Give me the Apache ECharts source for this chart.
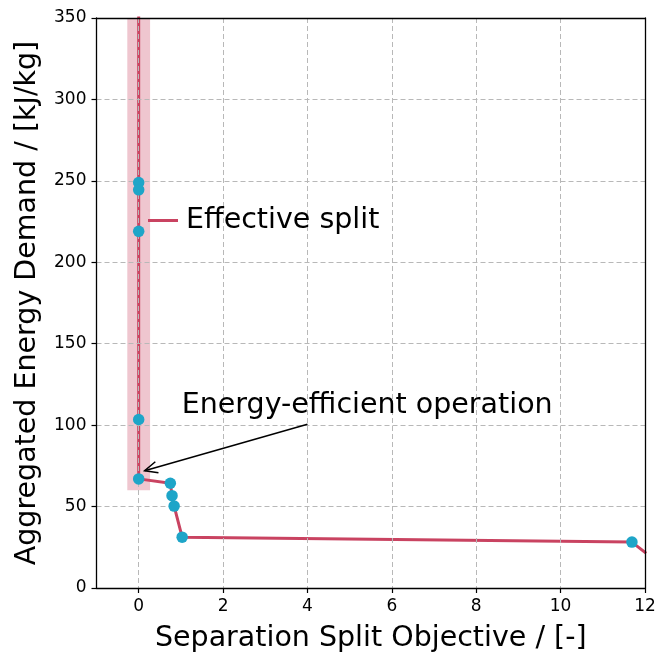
<!DOCTYPE html>
<html>
<head>
<meta charset="utf-8">
<script src="https://cdn.jsdelivr.net/npm/echarts@6/dist/echarts.min.js"></script>
<style>html,body{margin:0;padding:0;background:#fff}#c{width:656px;height:653px}</style>
</head>
<body>
<div id="c"></div>
<script>
// Data
const splitX = [0, 0, 0, 0, 0, 0, 0.75, 0.79, 0.84, 1.03, 11.69, 12.03];
const energyY = [420, 249, 244.5, 219, 103.5, 67, 64.3, 56.7, 50.3, 31.2, 28.2, 21.3];
const markerX = [0, 0, 0, 0, 0, 0.75, 0.79, 0.84, 1.03, 11.69, 12.03];
const markerY = [249, 244.5, 219, 103.5, 67, 64.3, 56.7, 50.3, 31.2, 28.2, 21.3];
const bandX = [-0.27, 0.27];
const bandY = [60, 350];
const arrowFrom = [4.0, 100.5];
const arrowTo = [0.14, 72];
const noteAt = [1.02, 112];
const noteText = 'Energy-efficient operation';
const seriesName = 'Effective split';
const xRange = [-1, 12];
const xTickValues = [0, 2, 4, 6, 8, 10, 12];
const yTicks = [0, 350, 50];

const FONT = 'DejaVu Sans';
const RED = '#c94361';
const BLUE = '#1ea5c8';

const chart = echarts.init(document.getElementById('c'), null, {renderer: 'canvas'});
const grid = '#b8b8b8';
chart.setOption({
  animation: false,
  grid: {left: 96.5, right: 11, top: 18, bottom: 65, show: false, containLabel: false, outerBoundsMode: 'none'},
  legend: {
    left: 143, top: 201, itemWidth: 30, itemHeight: 3, itemGap: 8,
    data: [{name: seriesName, icon: 'rect'}],
    textStyle: {fontFamily: FONT, fontSize: 28.5, color: '#000', padding: [0, 0, 0, 3]}
  },
  xAxis: [{
    type: 'value', min: xRange[0], max: xRange[1], position: 'bottom', z: 2,
    name: 'Separation Split Objective / [-]', nameLocation: 'middle', nameGap: 36,
    nameTextStyle: {color: '#000', fontFamily: FONT, fontSize: 28.5},
    axisLine: {show: true, onZero: false, lineStyle: {color: '#000', width: 1.3}},
    axisTick: {show: true, length: 5, customValues: xTickValues, lineStyle: {color: '#000', width: 1.2}},
    axisLabel: {color: '#000', fontFamily: FONT, fontSize: 17, margin: 10, customValues: xTickValues},
    splitLine: {show: true, lineStyle: {color: grid, type: [5, 3], width: 1}}
  }, {
    type: 'value', min: xRange[0], max: xRange[1], position: 'top', z: 5,
    axisLine: {show: true, onZero: false, lineStyle: {color: '#000', width: 1.3}},
    axisTick: {show: false}, axisLabel: {show: false}, splitLine: {show: false}
  }],
  yAxis: [{
    type: 'value', min: yTicks[0], max: yTicks[1], interval: yTicks[2], position: 'left', z: 2,
    name: 'Aggregated Energy Demand / [kJ/kg]', nameLocation: 'middle', nameGap: 54,
    nameTextStyle: {color: '#000', fontFamily: FONT, fontSize: 28.5},
    axisLine: {show: true, onZero: false, lineStyle: {color: '#000', width: 1.3}},
    axisTick: {show: true, length: 5, lineStyle: {color: '#000', width: 1.2}},
    axisLabel: {color: '#000', fontFamily: FONT, fontSize: 17, margin: 10},
    splitLine: {show: true, lineStyle: {color: grid, type: [5, 3], width: 1}}
  }, {
    type: 'value', min: yTicks[0], max: yTicks[1], interval: yTicks[2], position: 'right', z: 5,
    axisLine: {show: true, onZero: false, lineStyle: {color: '#000', width: 1.3}},
    axisTick: {show: false}, axisLabel: {show: false}, splitLine: {show: false}
  }],
  series: [
    {
      name: 'band', type: 'line', data: [], z: 0, silent: true,
      markArea: {silent: true, itemStyle: {color: RED, opacity: 0.3},
        data: [[{coord: [bandX[0], bandY[0]]}, {coord: [bandX[1], bandY[1]]}]]}
    },
    {
      name: seriesName, type: 'line', z: 1, showSymbol: false, symbol: 'none', clip: true,
      data: splitX.map((x, i) => [x, energyY[i]]),
      lineStyle: {color: RED, width: 3}, itemStyle: {color: RED}
    },
    {
      name: 'points', type: 'scatter', z: 3, symbolSize: 11.5, clip: true,
      data: markerX.map((x, i) => [x, markerY[i]]),
      itemStyle: {color: BLUE, opacity: 1}
    },
    {
      name: 'annotation', type: 'custom', z: 4, silent: true, clip: false,
      data: [[arrowFrom[0], arrowFrom[1], arrowTo[0], arrowTo[1], noteAt[0], noteAt[1]]],
      renderItem: function (params, api) {
        const a = api.coord([api.value(0), api.value(1)]);
        const b = api.coord([api.value(2), api.value(3)]);
        const t = api.coord([api.value(4), api.value(5)]);
        const ang = Math.atan2(a[1] - b[1], a[0] - b[0]);
        const L = 14, sp = 0.42;
        const h1 = [b[0] + L * Math.cos(ang + sp), b[1] + L * Math.sin(ang + sp)];
        const h2 = [b[0] + L * Math.cos(ang - sp), b[1] + L * Math.sin(ang - sp)];
        return {type: 'group', children: [
          {type: 'line', shape: {x1: a[0], y1: a[1], x2: b[0], y2: b[1]}, style: {stroke: '#000', lineWidth: 1.5}},
          {type: 'polyline', shape: {points: [h1, b, h2]}, style: {stroke: '#000', lineWidth: 1.5, fill: null}},
          {type: 'text', x: t[0], y: t[1], style: {text: noteText, fontFamily: FONT, fontSize: 28.5, fill: '#000', textAlign: 'left', textVerticalAlign: 'middle'}}
        ]};
      }
    }
  ]
});
</script>
</body>
</html>
